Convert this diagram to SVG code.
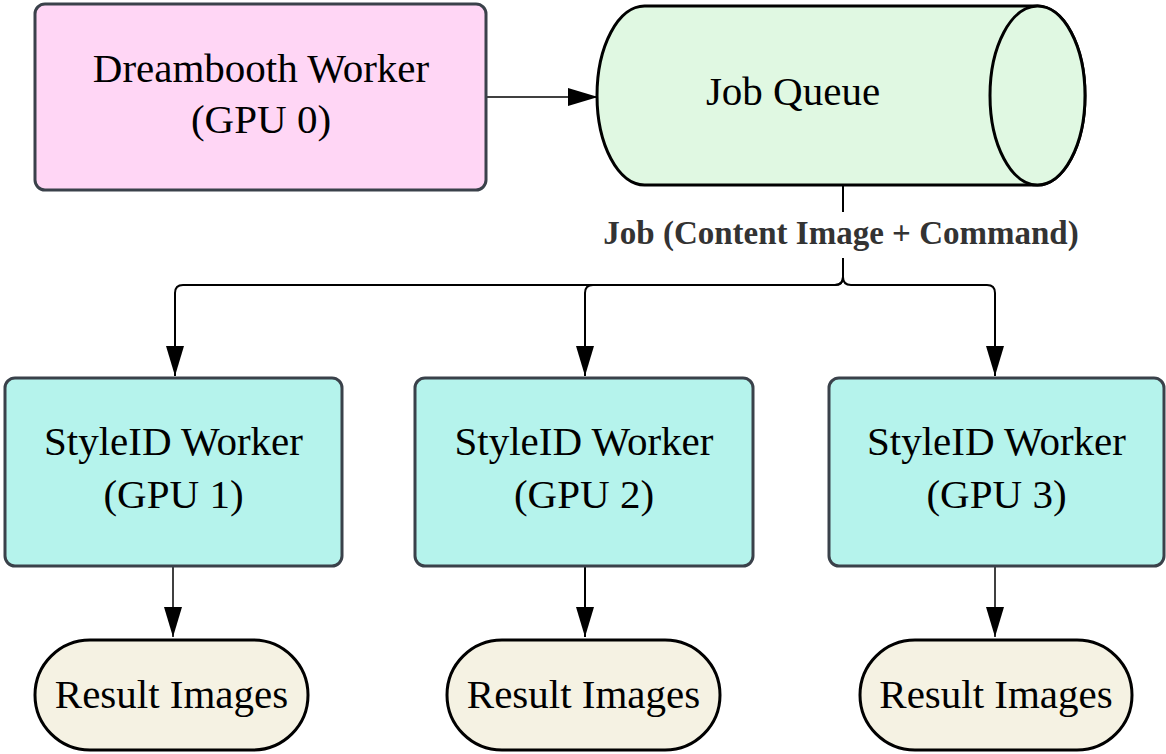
<svg xmlns="http://www.w3.org/2000/svg" width="1166" height="754" viewBox="0 0 1166 754">
<defs>
<marker id="ah" markerWidth="30" markerHeight="18" refX="30" refY="9" orient="auto" markerUnits="userSpaceOnUse">
<path d="M0,0 L30,9 L0,18 Z" fill="#000"/>
</marker>
<style>
.t{font-family:"Liberation Serif","Times New Roman",serif;font-size:41px;fill:#000;text-anchor:middle}
.lbl{font-family:"Liberation Serif","Times New Roman",serif;font-size:33px;font-weight:bold;fill:#333;text-anchor:middle}
.proc{stroke:#3a414a;stroke-width:3}
.c{fill:none;stroke:#000;stroke-width:2}
.ct{fill:none;stroke:#000;stroke-width:1.5}
</style>
</defs>
<rect width="1166" height="754" fill="#fff"/>
<g id="connectors">
<path class="ct" d="M486,97 L598,97" marker-end="url(#ah)"/>
<path class="c" d="M843,186 L843,212"/>
<path class="c" d="M843,258 L843,277 Q843,285 835,285 L183,285 Q175,285 175,293 L175,376" marker-end="url(#ah)"/>
<path class="c" d="M843,277 Q843,285 835,285 L593,285 Q585,285 585,293 L585,376" marker-end="url(#ah)"/>
<path class="c" d="M843,277 Q843,285 851,285 L987,285 Q995,285 995,293 L995,376" marker-end="url(#ah)"/>
<path class="ct" d="M173,567 L173,637" marker-end="url(#ah)"/>
<path class="c" d="M585,567 L585,637" marker-end="url(#ah)"/>
<path class="ct" d="M995,567 L995,637" marker-end="url(#ah)"/>
<text class="lbl" x="841" y="244">Job (Content Image + Command)</text>
</g>
<g id="dreambooth">
<rect class="proc" x="35" y="4" width="451" height="186" rx="10" fill="#ffd6f5"/>
<text class="t" x="261" y="82">Dreambooth Worker</text>
<text class="t" x="261" y="133">(GPU 0)</text>
</g>
<g id="jobqueue">
<path d="M644.5,6 L1037.5,6 A47.5,89.5 0 0 1 1037.5,185 L644.5,185 A47.5,89.5 0 0 1 644.5,6 Z" fill="#e0f8e2" stroke="#000" stroke-width="3"/>
<ellipse cx="1037.5" cy="95.5" rx="47.5" ry="89.5" fill="#e0f8e2" stroke="#000" stroke-width="3"/>
<text class="t" x="793" y="105">Job Queue</text>
</g>
<g id="styleid1">
<rect class="proc" x="5" y="378" width="337" height="188" rx="10" fill="#b5f3ec"/>
<text class="t" x="173.5" y="455">StyleID Worker</text>
<text class="t" x="173.5" y="508">(GPU 1)</text>
</g>
<g id="styleid2">
<rect class="proc" x="415" y="378" width="338" height="188" rx="10" fill="#b5f3ec"/>
<text class="t" x="584" y="455">StyleID Worker</text>
<text class="t" x="584" y="508">(GPU 2)</text>
</g>
<g id="styleid3">
<rect class="proc" x="829" y="378" width="335" height="188" rx="10" fill="#b5f3ec"/>
<text class="t" x="996.5" y="455">StyleID Worker</text>
<text class="t" x="996.5" y="508">(GPU 3)</text>
</g>
<g id="result1">
<rect x="35" y="640" width="273" height="110" rx="55" fill="#f5f2e3" stroke="#000" stroke-width="3"/>
<text class="t" x="171.5" y="708">Result Images</text>
</g>
<g id="result2">
<rect x="447" y="640" width="273" height="110" rx="55" fill="#f5f2e3" stroke="#000" stroke-width="3"/>
<text class="t" x="583.5" y="708">Result Images</text>
</g>
<g id="result3">
<rect x="860" y="640" width="272" height="110" rx="55" fill="#f5f2e3" stroke="#000" stroke-width="3"/>
<text class="t" x="996" y="708">Result Images</text>
</g>
</svg>
